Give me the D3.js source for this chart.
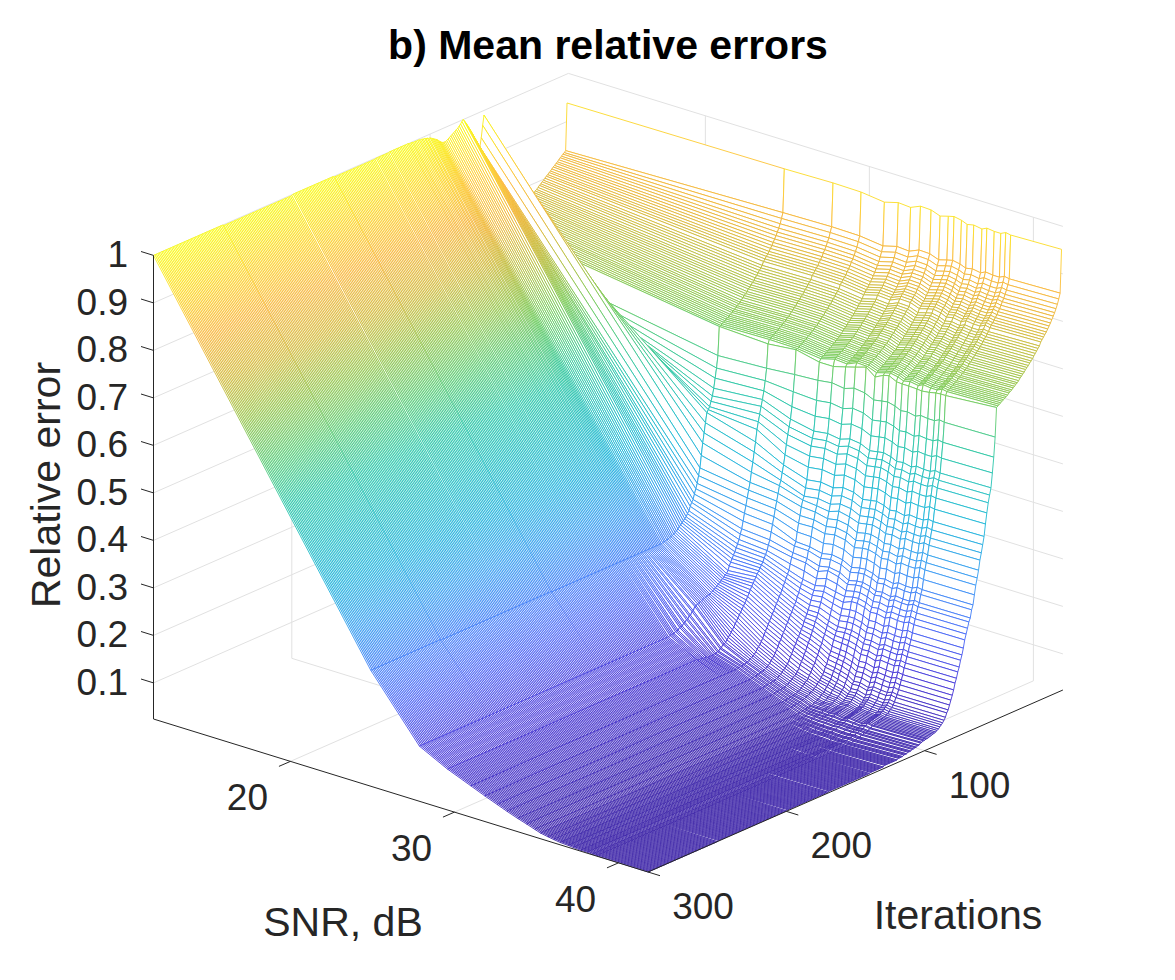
<!DOCTYPE html>
<html><head><meta charset="utf-8">
<script src="https://cdn.jsdelivr.net/npm/d3@7/dist/d3.min.js"></script>
<style>html,body{margin:0;padding:0;background:#fff}text{font-family:"Liberation Sans",Arial,sans-serif;fill:#262626}</style>
</head><body><svg id="c" width="1175" height="980" xmlns="http://www.w3.org/2000/svg"></svg>
<script>
const title = "b) Mean relative errors";
const snrTicks = [20,30,40];
const iterTicks = [100,200,300];
const zTicks = [0.1,0.2,0.3,0.4,0.5,0.6,0.7,0.8,0.9,1];
const zTickLabels = ["0.1","0.2","0.3","0.4","0.5","0.6","0.7","0.8","0.9","1"];
const snrLim = [11.65,41.8], iterLim = [300,0], zLim = [0.024,1];
// SNR of each mesh column, dB
const snrCols = [11.65,24.9,27.87,29.58,31,31.85,32.6,33.2,33.85,34.4,34.9,35.25,35.7,36.05,36.45,36.95,37.25,37.7,38.1,38.4,38.7,41.8];
// Iteration at which each row of the table below is read; a row's values stand until the next entry
const rowIter = [1,2,3,4,5,6,7,8,9,10,11,12,13,14,15,16,17,18,19,20,21,22,23,24,25,26,27,28,29,30,31,32,33,34,35,36,37,38,39,40,41,42,43,44,45,46,47,48,49,50,51,52,53,54,55,56,57,58,59,60,61,62,63,64,65,66,67,68,69,70,71,72,73,74,75,76,77,78,79,80,81,82,83,84,85,86,87,88,89,90,91,92,93,94,95,96,97,98,99,100,102,104,106,108,110,113,116,120,130,140,170,200,250];
// Relative error x1000: one line per rowIter entry, one value per snrCols entry
const errorRows = [
[939,942,944,943,937,945,943,952,951,944,949,952,949,944,947,944,949,947,947,952,950,953],
[840,851,853,852,846,854,852,861,860,853,858,861,858,853,856,853,858,856,856,861,859,862],
[837,840,842,841,835,843,841,850,849,842,847,850,847,842,845,842,847,845,845,850,848,851],
[835,830,832,831,825,833,831,840,839,832,837,840,837,832,835,832,837,835,835,840,838,841],
[832,822,824,823,817,825,823,832,831,824,829,832,829,824,827,824,829,827,827,832,830,833],
[830,815,817,816,810,818,816,825,824,817,822,825,822,817,820,817,822,820,820,825,823,826],
[827,809,811,810,804,812,810,819,818,811,816,819,816,811,814,811,816,814,814,819,817,820],
[824,803,805,804,798,806,804,813,812,805,810,813,810,805,808,805,810,808,808,813,811,814],
[822,797,799,798,792,800,798,807,806,799,804,807,804,799,802,799,804,802,802,807,805,808],
[819,792,794,793,787,795,793,802,801,794,799,802,799,794,797,794,799,797,797,802,800,803],
[817,787,789,788,782,790,788,797,796,789,794,797,794,789,792,789,794,792,792,797,795,798],
[814,782,784,783,777,785,783,792,791,784,789,792,789,784,787,784,789,787,787,792,790,793],
[811,778,780,779,773,781,779,788,787,780,785,788,785,780,783,780,785,783,783,788,786,789],
[809,774,776,775,769,777,775,784,783,776,781,784,781,776,779,776,781,779,779,784,782,785],
[806,770,772,771,765,773,771,780,779,772,777,780,777,772,775,772,777,775,775,780,778,781],
[804,766,768,767,761,769,767,776,775,768,773,776,773,768,771,768,773,771,771,776,774,777],
[801,759,761,760,754,762,760,769,768,761,766,769,766,761,764,761,766,764,764,769,767,770],
[798,755,757,756,750,758,756,765,764,757,762,765,762,757,760,757,762,760,760,765,763,766],
[796,751,753,752,746,754,752,761,760,753,758,761,758,753,756,753,758,756,756,761,759,762],
[793,747,749,748,742,750,748,757,756,749,754,757,754,749,752,749,754,752,752,757,755,758],
[791,743,745,744,738,746,744,753,752,745,750,753,750,745,748,745,750,748,748,753,751,754],
[788,739,741,740,734,742,740,749,748,741,746,749,746,741,744,741,746,744,744,749,747,750],
[785,735,737,736,730,738,736,745,744,737,742,745,742,737,740,737,742,740,740,745,743,746],
[783,732,734,733,727,735,733,742,741,734,739,742,739,734,737,734,739,737,737,742,740,743],
[781,728,730,729,723,731,729,738,737,730,735,738,735,730,733,730,735,733,733,738,736,739],
[779,725,727,726,720,728,726,735,734,727,732,735,732,727,730,727,732,730,730,735,733,736],
[777,722,724,723,717,725,723,732,731,724,729,732,729,724,727,724,729,727,727,732,730,733],
[775,718,720,719,713,721,719,728,727,720,725,728,725,720,723,720,725,723,723,728,726,729],
[773,715,717,716,710,718,716,725,724,717,722,725,722,717,720,717,722,720,720,725,723,726],
[771,712,714,713,707,715,713,722,721,714,719,722,719,714,717,714,719,717,717,722,720,723],
[769,709,711,710,704,712,710,719,718,711,716,719,716,711,714,711,716,714,714,719,717,720],
[768,705,707,706,700,708,706,715,714,707,712,715,712,707,710,707,712,710,710,715,713,716],
[766,702,704,703,697,705,703,712,711,704,709,712,709,704,707,704,709,707,707,712,710,713],
[764,700,702,701,695,703,701,710,709,702,707,710,707,702,705,702,707,705,705,710,708,711],
[762,697,699,698,692,700,698,707,706,699,704,707,704,699,702,699,704,702,702,707,705,708],
[760,695,697,696,690,698,696,705,704,697,702,705,702,697,700,697,702,700,700,705,703,706],
[758,692,694,693,687,695,693,702,701,694,699,702,699,694,697,694,699,697,697,702,700,703],
[756,690,692,691,685,693,691,700,699,692,697,700,697,692,695,692,697,695,695,700,698,701],
[754,688,690,689,683,691,689,698,697,690,695,698,695,690,693,690,695,693,693,698,696,699],
[752,685,687,686,680,688,686,695,694,687,692,695,692,687,690,687,692,690,690,695,693,696],
[750,683,685,684,678,686,684,693,692,685,690,693,690,685,688,685,690,688,688,693,691,694],
[749,681,683,682,676,684,682,691,690,683,688,691,688,683,686,683,688,686,686,691,689,692],
[747,679,681,680,674,682,680,689,688,681,686,689,686,681,684,681,686,684,684,689,687,690],
[745,677,679,678,672,680,678,687,686,679,684,687,684,679,682,679,684,682,682,687,685,688],
[743,675,677,676,670,678,676,685,684,677,682,685,682,677,680,677,682,680,680,685,683,686],
[741,673,675,674,668,676,674,683,682,675,680,683,680,675,678,675,680,678,678,683,681,684],
[739,671,673,672,666,674,672,681,680,673,678,681,678,673,676,673,678,676,676,681,679,682],
[737,670,665,671,660,660,667,673,680,665,674,677,669,668,668,667,666,668,671,672,672,680],
[690,610,615,620,623,627,623,630,627,618,621,623,619,613,615,611,616,614,614,619,617,619],
[695,585,590,585,582,586,582,589,586,577,580,582,578,572,574,570,575,573,573,578,576,578],
[705,565,570,555,550,554,550,557,554,545,548,550,546,540,542,538,543,541,541,546,544,546],
[720,545,553,530,520,524,520,527,524,515,518,520,516,510,512,508,513,511,511,516,514,516],
[745,530,540,515,506,510,506,513,510,501,504,506,502,496,498,494,499,497,497,502,500,502],
[775,520,525,500,491,495,491,498,495,486,489,491,487,481,483,479,484,482,482,487,485,487],
[805,510,510,480,471,475,471,478,475,466,469,471,467,461,463,459,464,462,462,467,465,467],
[840,505,495,460,449,453,449,456,453,444,447,449,445,439,441,437,442,440,440,445,443,445],
[875,500,470,440,424,428,424,431,428,419,422,424,420,414,416,412,417,415,415,420,418,420],
[910,480,450,425,408,412,408,415,412,403,406,408,404,398,400,396,401,399,399,404,402,404],
[945,460,430,410,392,396,392,399,396,387,390,392,388,382,384,380,385,383,383,388,386,388],
[975,440,410,400,385,382,378,385,380,373,376,378,374,368,370,366,371,369,369,374,372,374],
[990,415,390,385,372,370,364,368,364,354,358,359,355,349,351,347,352,350,350,355,353,354],
[970,390,375,370,355,355,349,353,349,339,343,344,340,334,336,332,337,335,335,340,338,339],
[945,375,360,355,340,341,335,339,335,325,329,330,326,320,322,318,323,321,321,326,324,325],
[927,360,345,340,323,322,316,320,316,306,310,311,307,301,303,299,304,302,302,307,305,306],
[932,350,330,325,304,302,296,300,296,286,290,291,287,281,283,279,284,282,282,287,285,286],
[938,340,315,310,296,295,287,291,287,277,281,282,278,272,274,270,275,273,273,278,276,277],
[945,330,300,295,283,280,272,276,272,261,265,266,262,256,258,254,259,257,257,262,260,261],
[952,325,290,285,275,272,262,270,264,254,258,259,255,249,251,247,252,250,250,255,253,254],
[958,318,280,275,262,256,248,255,250,242,246,247,243,237,239,235,240,238,238,243,241,242],
[965,310,272,268,250,240,235,240,235,231,235,236,232,226,228,224,229,227,227,232,230,231],
[972,305,265,262,243,232,226,230,224,220,227,227,223,217,218,214,219,217,217,221,219,220],
[978,300,258,255,236,224,217,220,213,208,211,211,207,201,202,198,203,201,201,205,203,204],
[984,297,252,250,229,216,208,210,202,195,198,198,194,188,189,185,190,188,188,192,190,191],
[990,294,246,245,222,208,199,200,191,185,188,188,184,178,179,175,180,178,178,182,180,181],
[995,291,240,240,215,200,190,190,180,174,175,175,171,165,166,162,167,165,165,169,167,168],
[1000,288,233,235,209,194,183,182,172,166,168,167,163,157,158,154,159,157,156,160,158,159],
[997,285,225,230,203,188,176,174,164,158,157,156,152,146,147,142,147,145,144,148,146,147],
[993,282,220,224,197,182,169,166,156,150,148,147,143,137,138,133,138,136,135,139,137,138],
[990,279,218,219,191,176,162,158,148,138,136,135,130,124,125,120,125,123,122,126,124,125],
[987,277,215,214,185,170,155,150,140,129,127,125,120,114,115,110,115,113,112,116,114,115],
[985,275,213,208,179,164,149,143,133,122,119,117,112,105,106,101,106,104,103,107,105,106],
[983,273,210,202,173,158,143,136,126,114,111,109,103,96,97,92,97,95,94,98,96,97],
[981,272,208,196,167,152,137,129,119,106,103,100,95,87,88,83,88,86,85,89,87,88],
[979,271,205,190,161,146,131,122,112,100,97,94,89,82,83,78,83,81,80,84,82,83],
[977,270,203,185,155,140,125,115,105,92,89,85,81,74,75,70,75,73,72,76,74,75],
[975,269,200,180,149,134,119,109,100,87,83,79,75,69,70,65,70,68,67,71,69,70],
[973,268,198,175,143,128,113,103,94,82,78,74,70,65,66,61,66,64,63,67,65,66],
[971,268,196,170,137,122,107,97,89,78,74,70,67,62,63,58,63,61,60,64,62,63],
[970,267,194,165,131,116,101,91,83,75,71,67,64,59,60,55,60,58,57,61,59,60],
[970,266,192,160,125,110,95,85,78,72,65,62,60,56,57,52,57,55,54,58,56,57],
[971,266,191,155,121,106,92,82,75,68,62,59,58,54,55,50,55,53,52,56,54,55],
[973,266,190,150,117,102,89,80,72,65,60,57,56,52,53,49,53,51,50,54,52,53],
[976,266,189,145,113,98,86,77,70,63,58,55,54,51,52,48,52,50,49,53,51,52],
[979,266,188,140,109,94,83,75,67,61,55,52,52,49,50,47,51,49,48,52,50,51],
[982,266,187,136,105,90,80,72,64,60,52,50,50,48,49,46,50,48,47,51,49,50],
[984,266,186,132,103,89,78,70,62,58,51,49,49,47,48,45,49,47,46,50,48,49],
[986,266,185,128,101,87,76,68,60,56,49,48,47,46,47,44,48,46,45,49,47,48],
[988,266,184,124,99,85,75,67,59,55,48,47,46,45,46,43,47,45,44,48,46,47],
[990,266,183,120,97,84,73,65,57,53,46,45,45,44,45,42,46,44,43,47,45,47],
[992,266,180,118,95,83,72,64,56,52,45,44,44,43,44,41,45,43,42,46,44,46],
[994,266,172,112,93,81,71,63,55,50,44,42,42,41,42,40,42,41,40,43,41,44],
[996,266,165,108,92,80,70,62,54,49,43,41,40,40,39,38,39,38,38,39,38,41],
[997,266,160,106,91,79,69,61,53,48,42,40,39,38,38,37,38,37,37,38,37,39],
[998,266,155,105,90,78,68,60,52,47,41,38,37,36,36,35,36,35,35,36,35,38],
[998,266,150,105,90,78,68,60,52,46,40,37,35,34,33,33,33,32,32,33,32,36],
[999,266,145,107,90,78,68,60,52,46,40,37,34,33,32,31,31,30,30,31,30,34],
[1000,266,142,108,90,78,68,60,52,46,40,36,34,32,30,30,30,29,28,29,28,32],
[1000,266,140,110,90,78,68,60,52,46,40,36,33,31,29,28,28,27,27,28,27,30],
[999,266,140,110,90,78,68,60,52,46,40,36,33,31,29,28,28,27,26,27,26,28],
[998,266,140,110,90,78,68,60,52,46,40,36,33,31,29,28,27,26,26,26,26,27],
[1000,267,140,110,90,78,68,60,52,46,40,36,33,31,29,28,27,26,26,25,25,26],
[998,267,140,110,90,78,68,60,52,46,40,36,33,31,29,28,27,26,26,25,25,25],
[1000,268,140,110,90,78,68,60,52,46,40,36,33,31,29,28,27,26,26,25,25,24]
];
const colorStops = [0,0.1,0.2,0.3,0.42,0.56,0.66,0.72,0.8,0.87,0.94,1];
const colorValues = ["#3e26a8","#4636d8","#4767f8","#3a97f5","#1cb8d8","#2cc8a4","#72cc5a","#a8c244","#e8b636","#feb83e","#fbdf22","#f9fb15"];

const svg = d3.select("#c"), defs = svg.append("defs");
const colorT = d3.scaleLinear().domain(zLim).range([0,1]);
const colormap = d3.scaleLinear().domain(colorStops).range(colorValues).interpolate(d3.interpolateRgb);
const color = z => colormap(colorT(z));
// parallel projection of the 3-D box
const snrX = d3.scaleLinear().domain(snrLim).range([0,494.5]);
const snrY = d3.scaleLinear().domain(snrLim).range([0,153]);
const iterX = d3.scaleLinear().domain(iterLim).range([0,414.9]);
const iterY = d3.scaleLinear().domain(iterLim).range([0,-182]);
const zPx = d3.scaleLinear().domain(zLim).range([0,-463.6]);
const ox = 153.5, oy = 719;
const P = (s,it,z) => [ox+snrX(s)+iterX(it), oy+snrY(s)+iterY(it)+zPx(z)];
const line = (pts,cls) => svg.append("path").attr("d",d3.line()(pts)).attr("fill","none")
   .attr("stroke",cls==="g"?"#e1e1e1":"#262626").attr("stroke-width",1);
const [sA,sB]=snrLim,[iF,iB]=iterLim,[zA,zB]=zLim;
// grid
snrTicks.forEach(s=>{line([P(s,iF,zA),P(s,iB,zA),P(s,iB,zB)],"g");});
iterTicks.filter(t=>t<300).forEach(t=>{line([P(sB,t,zA),P(sA,t,zA),P(sA,t,zB)],"g");});
zTicks.forEach(z=>{line([P(sA,iF,z),P(sA,iB,z),P(sB,iB,z)],"g");});

// mesh, far rows first, with white faces that hide what lies behind
const iters = d3.range(1,301);
const rowAt = it => errorRows[d3.bisectRight(rowIter,it)-1];
let gid=0;
const mesh = svg.append("g").attr("fill","#fff").attr("stroke-width",0.9).attr("stroke-linejoin","round");
function stroke(v){
  const zs=v.map(d=>d.z), lo=d3.min(zs), hi=d3.max(zs);
  if(hi-lo<0.012) return color((hi+lo)/2);
  const sorted=v.slice().sort((a,b)=>a.p[1]-b.p[1]), top=sorted[0], bot=sorted[3];
  if(Math.abs(bot.p[1]-top.p[1])<1) return color((hi+lo)/2);
  const id="g"+(gid++);
  const g=defs.append("linearGradient").attr("id",id).attr("gradientUnits","userSpaceOnUse")
    .attr("x1",0).attr("x2",0).attr("y1",top.p[1]).attr("y2",bot.p[1]);
  const n=Math.max(2,Math.ceil(Math.abs(top.z-bot.z)/0.08));
  d3.range(n+1).forEach(k=>{const f=k/n;g.append("stop").attr("offset",f).attr("stop-color",color(top.z+(bot.z-top.z)*f));});
  return "url(#"+id+")";
}
for(let r=0;r<iters.length-1;r++){
  const a=rowAt(iters[r]), b=rowAt(iters[r+1]);
  for(let c=0;c<snrCols.length-1;c++){
    const v=[[iters[r],c,a[c]],[iters[r],c+1,a[c+1]],[iters[r+1],c+1,b[c+1]],[iters[r+1],c,b[c]]]
      .map(([it,cc,e])=>{const z=e/1000;return {z,p:P(snrCols[cc],it,z)};});
    mesh.append("path").attr("d","M"+v.map(d=>d.p[0].toFixed(2)+","+d.p[1].toFixed(2)).join("L")+"Z").attr("stroke",stroke(v));
  }
}
// axes
line([P(sA,iF,zB),P(sA,iF,zA),P(sB,iF,zA),P(sB,iB,zA)],"k");
const tk = (p,dx,dy)=>line([p,[p[0]+dx,p[1]+dy]],"k");
zTicks.forEach(z=>tk(P(sA,iF,z),-12.5,-3.9));
snrTicks.forEach(s=>tk(P(s,iF,zA),-11.5,5));
iterTicks.forEach(t=>tk(P(sB,t,zA),12,3.7));
const txt=(s,x,y,o={})=>svg.append("text").text(s).attr("x",x).attr("y",y)
   .attr("font-size",o.size||37).attr("text-anchor",o.anchor||"middle").attr("font-weight",o.weight||"normal")
   .style("fill",o.fill||null)
   .attr("transform",o.rot?`rotate(${o.rot} ${x} ${y})`:null);
zTicks.forEach((z,i)=>{const p=P(sA,iF,z);txt(zTickLabels[i],128,p[1]+12,{anchor:"end"});});
snrTicks.forEach(s=>{const p=P(s,iF,zA);txt(String(s),p[0]-43,p[1]+49);});
iterTicks.forEach(t=>{const p=P(sB,t,zA);txt(String(t),p[0]+55,p[1]+47);});
txt("SNR, dB",343,936,{size:41});
txt("Iterations",958,929,{size:41});
txt("Relative error",60,485,{size:41,rot:-90});
txt(title,608,59,{size:41,weight:"bold",fill:"#000"});
</script></body></html>
